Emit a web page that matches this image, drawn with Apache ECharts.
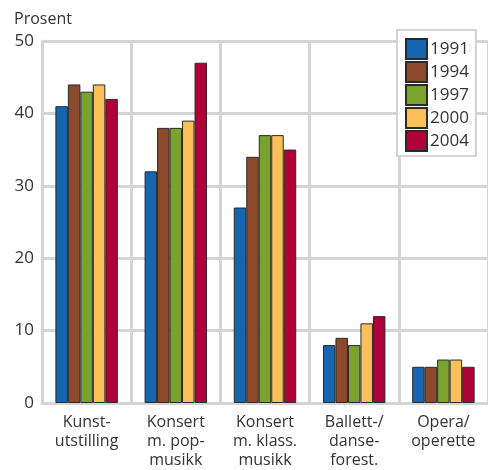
<!DOCTYPE html>
<html>
<head>
<meta charset="utf-8">
<script src="https://cdn.jsdelivr.net/npm/echarts@6/dist/echarts.min.js"></script>
<style>
    html, body { margin: 0; padding: 0; background: #fff; }
    #chart { width: 488px; height: 470px; }
</style>
</head>
<body>
<div id="chart"></div>
<script>
const categories = [
    'Kunst-\nutstilling',
    'Konsert\nm. pop-\nmusikk',
    'Konsert\nm. klass.\nmusikk',
    'Ballett-/\ndanse-\nforest.',
    'Opera/\noperette'
];
const years = ['1991', '1994', '1997', '2000', '2004'];
const colors = ['#1565b0', '#8b4a2b', '#7aa22f', '#fdbf57', '#b0003a'];

const values1991 = [41, 32, 27, 8, 5];
const values1994 = [44, 38, 34, 9, 5];
const values1997 = [43, 38, 37, 8, 6];
const values2000 = [44, 39, 37, 11, 6];
const values2004 = [42, 47, 35, 12, 5];
const seriesValues = [values1991, values1994, values1997, values2000, values2004];

const FONT = '"Open Sans", "Noto Sans", sans-serif';
const GRID_COLOR = '#d4d4d4';

const chart = echarts.init(document.getElementById('chart'));
chart.setOption({
    animation: false,
    textStyle: { fontFamily: FONT },
    grid: {
        left: 42,
        top: 41,
        width: 453,
        height: 365,
        containLabel: false
    },
    legend: {
        orient: 'vertical',
        left: 397,
        top: 30,
        itemWidth: 21,
        itemHeight: 20,
        itemGap: 1,
        padding: [8, 7, 4, 8],
        icon: 'rect',
        backgroundColor: '#fff',
        borderColor: GRID_COLOR,
        borderWidth: 2,
        textStyle: { fontFamily: FONT, fontSize: 17, lineHeight: 20, color: '#333', padding: [0, 0, 0, -2] },
        data: years
    },
    xAxis: {
        type: 'category',
        data: categories,
        axisTick: { show: false },
        axisLine: { show: true, lineStyle: { color: GRID_COLOR, width: 3 } },
        splitLine: { show: true, lineStyle: { color: GRID_COLOR, width: 3 } },
        axisLabel: {
            interval: 0,
            margin: 10,
            fontFamily: FONT,
            fontSize: 16,
            lineHeight: 19,
            color: '#333'
        }
    },
    yAxis: {
        type: 'value',
        min: 0,
        max: 50,
        interval: 10,
        name: 'Prosent',
        nameLocation: 'end',
        nameGap: 14,
        nameTextStyle: { fontFamily: FONT, fontSize: 16, color: '#333', align: 'left', padding: [0, 0, 0, -28] },
        axisTick: { show: false },
        axisLine: { show: true, lineStyle: { color: GRID_COLOR, width: 3 } },
        splitLine: { show: true, lineStyle: { color: GRID_COLOR, width: 3 } },
        axisLabel: { fontFamily: FONT, fontSize: 17, color: '#333', margin: 8 }
    },
    series: years.map((year, i) => ({
        name: year,
        type: 'bar',
        data: seriesValues[i],
        barGap: '0%',
        barCategoryGap: '30%',
        itemStyle: {
            color: colors[i],
            borderColor: '#2a2a2a',
            borderWidth: 1
        }
    }))
});
</script>
</body>
</html>
